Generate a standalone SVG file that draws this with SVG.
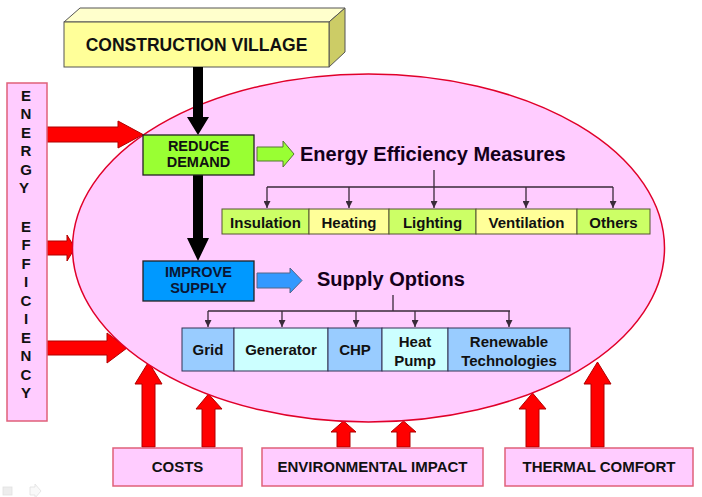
<svg xmlns="http://www.w3.org/2000/svg" width="702" height="497" viewBox="0 0 702 497">
<defs>
<style>
text{font-family:"Liberation Sans",Arial,sans-serif;font-weight:bold;fill:#111;}
.red{fill:#ff0000;stroke:#b00000;stroke-width:1;}
.blk{fill:#000;}
.pinkbox{fill:#ffccff;stroke:#e0607a;stroke-width:1.5;}
.conn{fill:none;stroke:#3a2a3a;stroke-width:1.3;}
.g{fill:#ccff66;stroke:#555533;stroke-width:1;}
.y{fill:#ffff99;stroke:#555533;stroke-width:1;}
.b{fill:#99ccff;stroke:#333355;stroke-width:1;}
.c{fill:#ccffff;stroke:#333355;stroke-width:1;}
.cell{font-size:15px;text-anchor:middle;}
.lbl{font-size:14.5px;text-anchor:middle;}
</style>
<marker id="ah" viewBox="0 0 10 10" refX="10" refY="5" markerWidth="7" markerHeight="7" markerUnits="userSpaceOnUse" orient="auto">
<path d="M0,0 L10,5 L0,10 z" fill="#3a2a3a"/>
</marker>
</defs>
<rect width="702" height="497" fill="#ffffff"/>

<g id="side-arrows">
<polygon class="red" points="47,127 118,127 118,121 143,134.5 118,148 118,142 47,142"/>
<polygon class="red" points="47,241 67,241 67,235 75,248 67,261 67,255 47,255"/>
<polygon class="red" points="47,341 107,341 107,333 127,348 107,363 107,355 47,355"/>
<polygon class="red" points="142,447 142,384 135,384 148.5,362 162,384 155,384 155,447"/>
<polygon class="red" points="202,447 202,409 196,409 208.5,394 222,409 215,409 215,447"/>
<polygon class="red" points="337,447 337,432 331,432 343.5,421 356,432 350,432 350,447"/>
<polygon class="red" points="397,447 397,432 391,432 403.5,421 416,432 410,432 410,447"/>
<polygon class="red" points="526,447 526,409 519,409 532.5,393 546,409 539,409 539,447"/>
<polygon class="red" points="591,447 591,384 584,384 597.5,362 611,384 604,384 604,447"/>
</g>

<g id="ellipse">
<ellipse cx="368.5" cy="248" rx="296" ry="174" fill="#ffccff" stroke="#e0002a" stroke-width="1.5"/>
</g>

<g id="construction-village">
<polygon points="64,22 80,8 345,8 329,22" fill="#ffffcc" stroke="#555" stroke-width="1"/>
<polygon points="329,22 345,8 345,52 329,67" fill="#cccc66" stroke="#555" stroke-width="1"/>
<rect x="64" y="22" width="265" height="45" fill="#ffff99" stroke="#555" stroke-width="1"/>
<text x="196.5" y="51" font-size="17.5" text-anchor="middle">CONSTRUCTION VILLAGE</text>
</g>

<g id="connectors">
<polygon class="blk" points="193,67 203,67 203,117 209,117 198,135 187,117 193,117"/>
<polygon class="blk" points="193,175 203,175 203,238 209,238 198,261 187,238 193,238"/>
<polygon points="257,147 283,147 283,141 294,154 283,167 283,161 257,161" fill="#99ff33" stroke="#557733" stroke-width="1"/>
<polygon points="257,273 290,273 290,268 302,280.5 290,293 290,288 257,288" fill="#3399ff" stroke="#556688" stroke-width="1"/>
<path class="conn" d="M434,170 V187 M267,187 H613"/>
<path class="conn" marker-end="url(#ah)" d="M267,187 V208"/>
<path class="conn" marker-end="url(#ah)" d="M349,187 V208"/>
<path class="conn" marker-end="url(#ah)" d="M434,187 V208"/>
<path class="conn" marker-end="url(#ah)" d="M526,187 V208"/>
<path class="conn" marker-end="url(#ah)" d="M613,187 V208"/>
<path class="conn" d="M393,295 V311 M208,311 H510"/>
<path class="conn" marker-end="url(#ah)" d="M208,311 V327"/>
<path class="conn" marker-end="url(#ah)" d="M282,311 V327"/>
<path class="conn" marker-end="url(#ah)" d="M356,311 V327"/>
<path class="conn" marker-end="url(#ah)" d="M415,311 V327"/>
<path class="conn" marker-end="url(#ah)" d="M509,311 V327"/>
</g>

<g id="energy-efficiency">
<rect class="pinkbox" x="7" y="83" width="40" height="338"/>
<text font-size="15" text-anchor="middle" fill="#111">
<tspan x="26" y="100.5">E</tspan><tspan x="26" y="119">N</tspan><tspan x="26" y="137.5">E</tspan><tspan x="26" y="156">R</tspan><tspan x="26" y="174.5">G</tspan><tspan x="26" y="193">Y</tspan>
<tspan x="26" y="231.5">E</tspan><tspan x="26" y="250">F</tspan><tspan x="26" y="268.5">F</tspan><tspan x="26" y="287">I</tspan><tspan x="26" y="305.5">C</tspan><tspan x="26" y="324">I</tspan><tspan x="26" y="342.5">E</tspan><tspan x="26" y="361">N</tspan><tspan x="26" y="379.5">C</tspan><tspan x="26" y="398">Y</tspan>
</text>
</g>

<g id="reduce-demand">
<rect x="143" y="135" width="111" height="40" fill="#99ff33" stroke="#222" stroke-width="1.3"/>
<text class="lbl"><tspan x="198.5" y="151">REDUCE</tspan><tspan x="198.5" y="167">DEMAND</tspan></text>
</g>

<g id="improve-supply">
<rect x="143" y="261" width="111" height="40" fill="#0099ff" stroke="#222" stroke-width="1.3"/>
<text class="lbl" style="fill:#0a1533"><tspan x="198.5" y="277">IMPROVE</tspan><tspan x="198.5" y="293">SUPPLY</tspan></text>
</g>

<g id="eem-title">
<text x="300" y="161" font-size="20" style="fill:#14001a">Energy Efficiency Measures</text>
</g>

<g id="supply-title">
<text x="317" y="286" font-size="20" style="fill:#14001a">Supply Options</text>
</g>

<g id="insulation"><rect class="g" x="222" y="209" width="87" height="25"/><text class="cell" x="265.5" y="227.5">Insulation</text></g>
<g id="heating"><rect class="y" x="309" y="209" width="80" height="25"/><text class="cell" x="349" y="227.5">Heating</text></g>
<g id="lighting"><rect class="g" x="389" y="209" width="87" height="25"/><text class="cell" x="432.5" y="227.5">Lighting</text></g>
<g id="ventilation"><rect class="y" x="476" y="209" width="101" height="25"/><text class="cell" x="526.5" y="227.5">Ventilation</text></g>
<g id="others"><rect class="g" x="577" y="209" width="73" height="25"/><text class="cell" x="613.5" y="227.5">Others</text></g>

<g id="grid"><rect class="b" x="182" y="328" width="52" height="43"/><text class="cell" x="208" y="355">Grid</text></g>
<g id="generator"><rect class="c" x="234" y="328" width="94" height="43"/><text class="cell" x="281" y="355">Generator</text></g>
<g id="chp"><rect class="b" x="328" y="328" width="54" height="43"/><text class="cell" x="355" y="355">CHP</text></g>
<g id="heat-pump"><rect class="c" x="382" y="328" width="66" height="43"/><text class="cell" x="415" y="347">Heat</text><text class="cell" x="415" y="366">Pump</text></g>
<g id="renewable"><rect class="b" x="448" y="328" width="122" height="43"/><text class="cell" x="509" y="347">Renewable</text><text class="cell" x="509" y="366">Technologies</text></g>

<g id="costs"><rect class="pinkbox" x="113" y="448" width="129" height="38"/><text class="cell" x="177.5" y="471.5">COSTS</text></g>
<g id="environmental-impact"><rect class="pinkbox" x="262" y="448" width="221" height="38"/><text class="cell" x="372.5" y="471.5" font-size="15.5">ENVIRONMENTAL IMPACT</text></g>
<g id="thermal-comfort"><rect class="pinkbox" x="505" y="448" width="188" height="38"/><text class="cell" x="599" y="471.5" font-size="15.5">THERMAL COMFORT</text></g>

<g id="slide-icons" opacity="0.35">
<rect x="3" y="487" width="9" height="8" fill="#ccc" stroke="#aaa" stroke-width="0.8"/>
<path d="M30,487 h5 v-3 l6,7 -6,7 v-3 h-5 z" fill="#eee" stroke="#aaa" stroke-width="0.8"/>
</g>
</svg>
